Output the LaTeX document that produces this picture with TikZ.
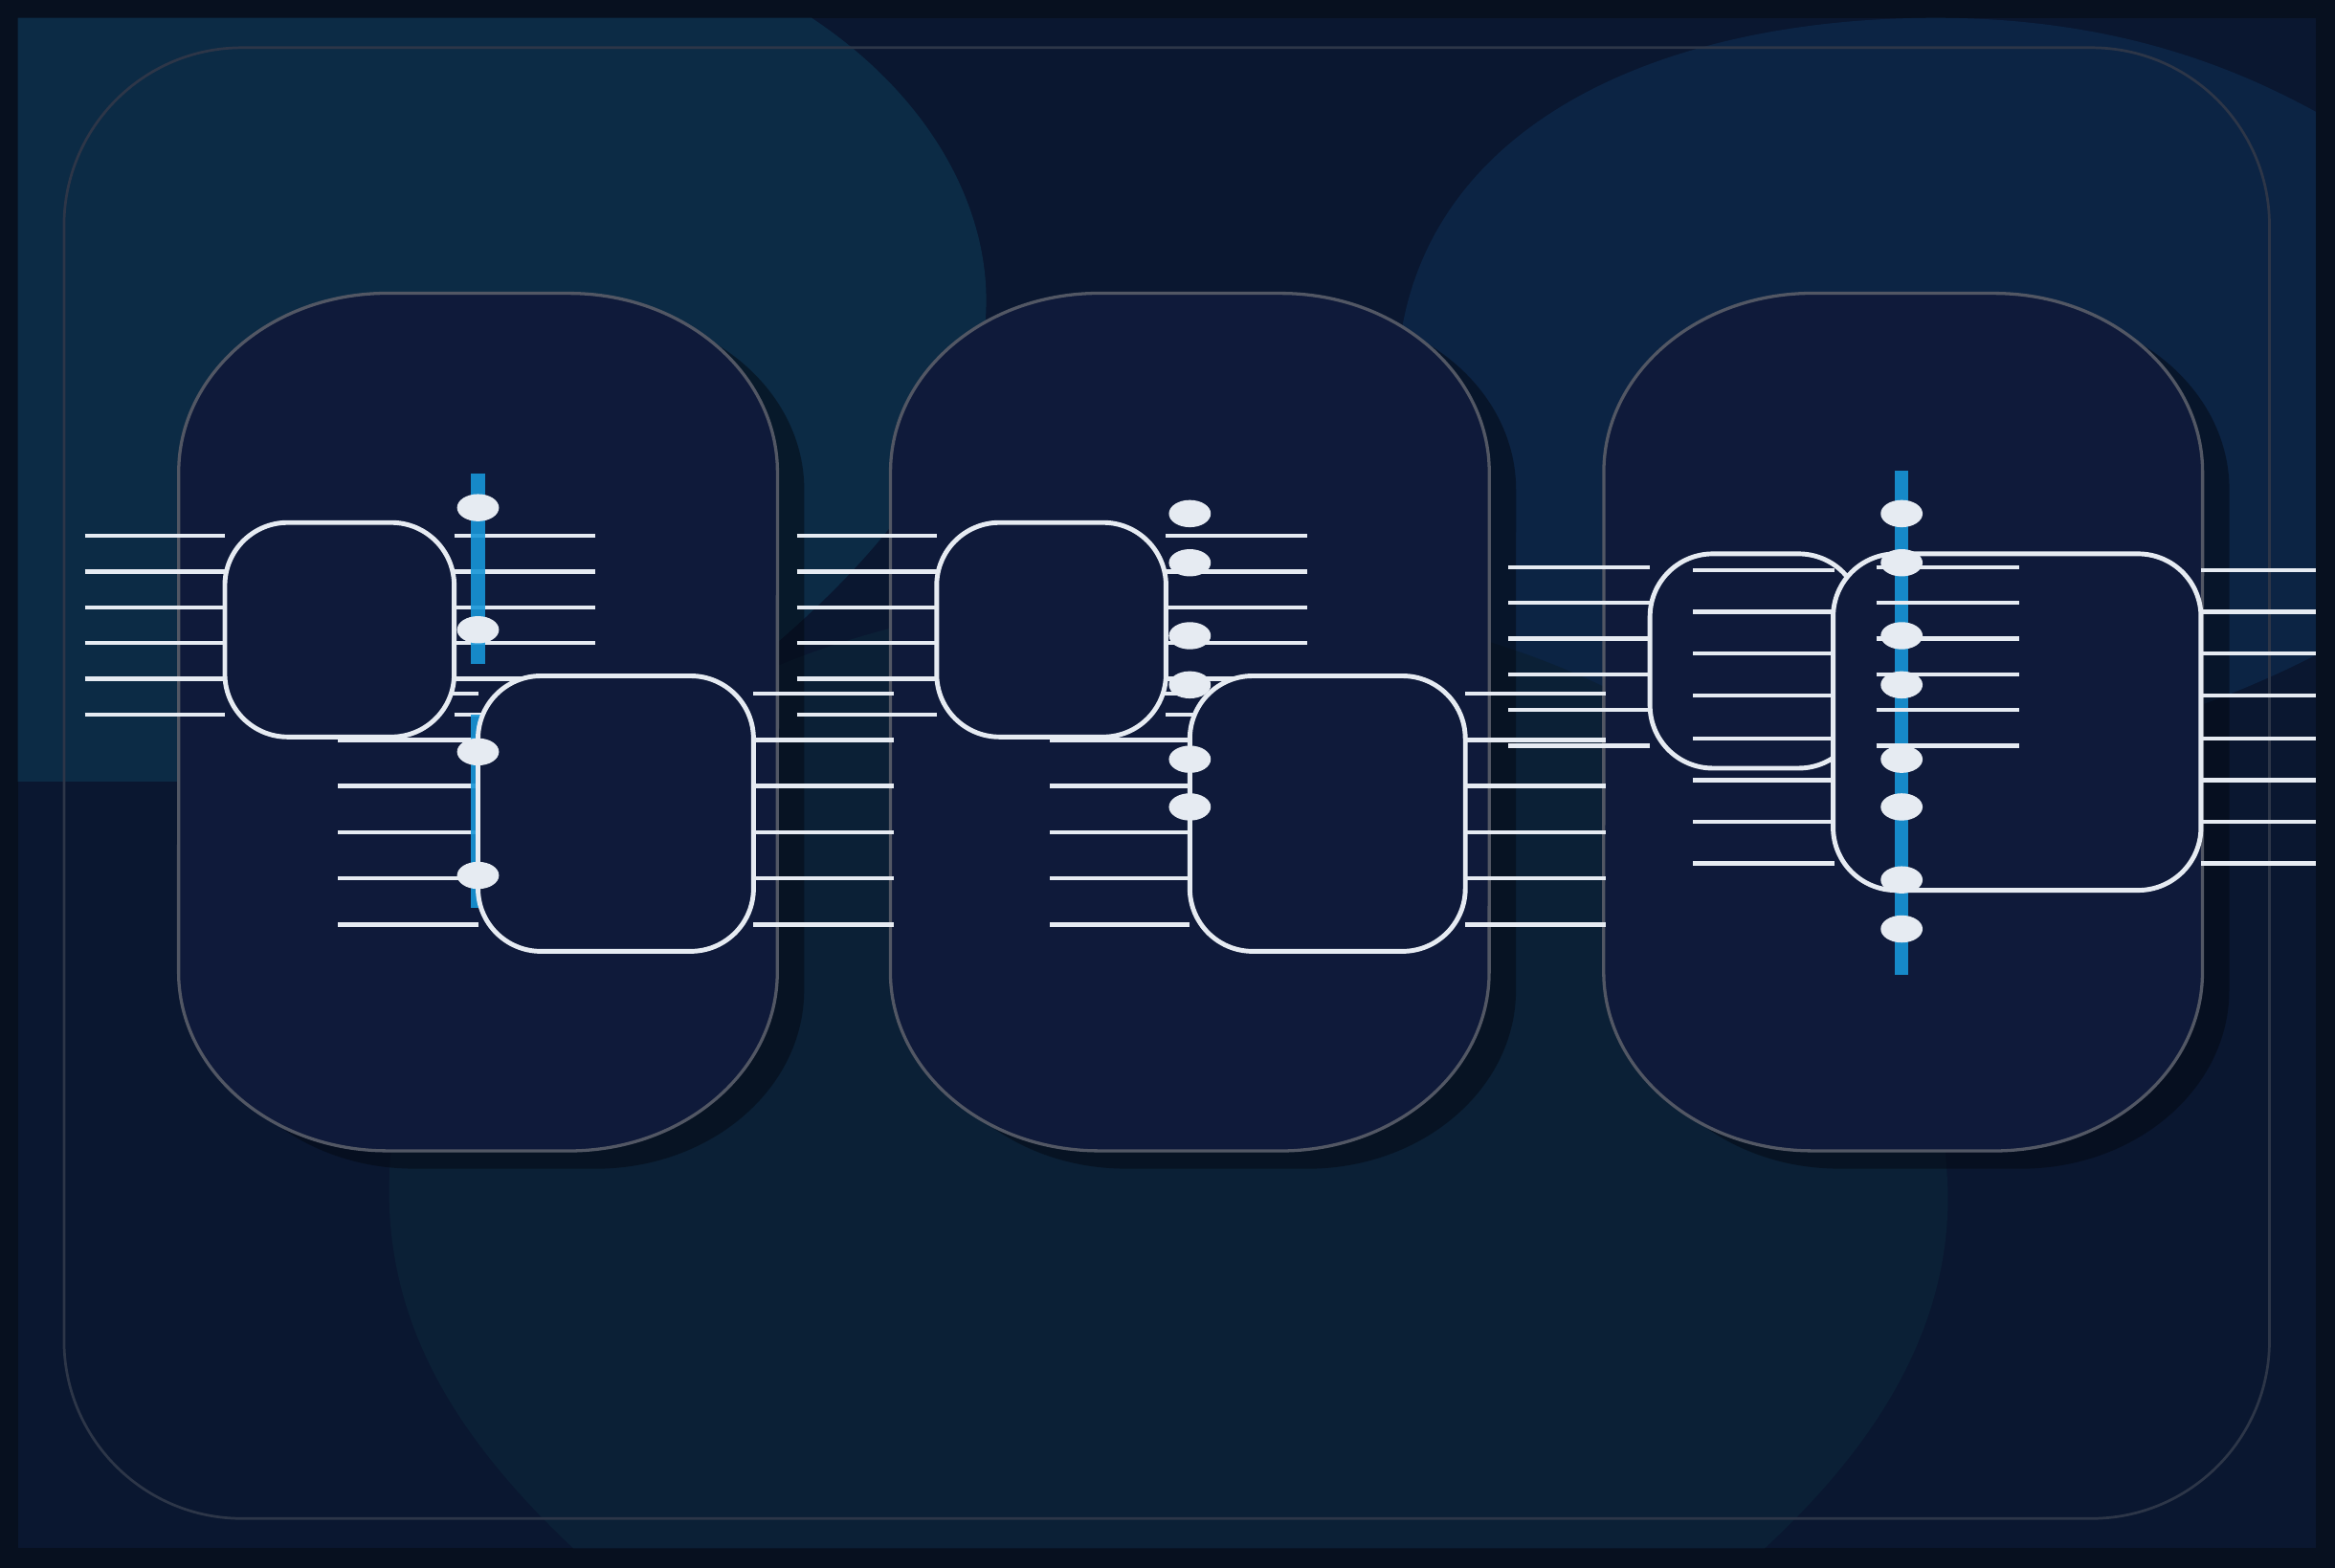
\documentclass[tikz,border=0pt]{standalone}
\usepackage{tikz}
\definecolor{bgdark}{HTML}{07101F}
\definecolor{bgmid}{HTML}{0A1730}
\definecolor{blobA}{HTML}{0C2B45}
\definecolor{blobB}{HTML}{0C2444}
\definecolor{blobC}{HTML}{0B2036}
\definecolor{panel}{HTML}{0F1A3A}
\definecolor{wire}{HTML}{E6EBF2}
\definecolor{bar}{HTML}{1796D8}
\tikzset{panelbox/.style={fill=panel,draw=gray!60!panel,line width=0.6pt},
         shadowbox/.style={fill=black!70!panel,opacity=0.5},
         gatebox/.style={rounded corners=12pt,draw=wire,line width=0.9pt,fill=panel},
         wireline/.style={draw=wire,line width=0.8pt},
         dotnode/.style={ellipse,fill=wire,minimum width=8pt,minimum height=5.2pt,inner sep=0},
         barline/.style={draw=bar,line width=2.6pt,opacity=0.9}}
\usetikzlibrary{shapes.geometric}
\newcommand{\panelpath}[2]{(120+#1,317+#2) arc[start angle=180,end angle=90,x radius=1.4cm,y radius=1.2cm]
  -- (382+#1,197+#2) arc[start angle=90,end angle=0,x radius=1.4cm,y radius=1.2cm] -- (522+#1,653+#2)
  arc[start angle=0,end angle=-90,x radius=1.4cm,y radius=1.2cm] -- (260+#1,773+#2)
  arc[start angle=-90,end angle=-180,x radius=1.4cm,y radius=1.2cm] -- cycle}
\begin{document}
\begin{tikzpicture}[x=0.01cm,y=-0.01cm]
\useasboundingbox (0,0) rectangle (1568,1053);
\fill[bgdark] (0,0) rectangle (1568,1053);
\fill[bgmid] (12,12) rectangle (1555,1040);
%% background blobs
\fill[blobA] (12,12) -- (545,12) .. controls (640,75) and (680,170) .. (655,250)
  .. controls (620,360) and (520,440) .. (400,525) -- (12,525) -- cycle;
\fill[blobB] (940,230) .. controls (960,80) and (1120,12) .. (1300,12)
  .. controls (1420,12) and (1500,45) .. (1555,75) -- (1555,440)
  .. controls (1400,520) and (1150,560) .. (1000,470) .. controls (950,420) and (935,320) .. (940,230) -- cycle;
\fill[blobC] (385,1040) .. controls (300,960) and (255,880) .. (262,780)
  .. controls (280,560) and (480,400) .. (780,400) .. controls (1090,400) and (1300,560) .. (1308,800)
  .. controls (1310,900) and (1250,980) .. (1185,1040) -- cycle;
\draw[gray!30!bgmid,line width=0.5pt,rounded corners=34pt] (43,32) rectangle (1524,1020);
%% panels
\foreach \dx in {0,478,957}{
  \fill[shadowbox] \panelpath{\dx+18}{12};
  \draw[panelbox] \panelpath{\dx}{0};
}
%% panel one and two
\foreach \dx in {0,478}{
  \foreach \y in {360,384,...,480}{
    \draw[wireline] (57+\dx,\y) -- (151+\dx,\y);
    \draw[wireline] (305+\dx,\y) -- (400+\dx,\y);
  }
  \foreach \y in {466,497,528,559,590,621}{
    \draw[wireline] (227+\dx,\y) -- (321+\dx,\y);
    \draw[wireline] (506+\dx,\y) -- (600+\dx,\y);
  }
}
\draw[barline] (321,318) -- (321,446);
\draw[barline] (321,480) -- (321,610);
\foreach \dx in {0,478}{
  \draw[gatebox] (151+\dx,351) rectangle (305+\dx,495);
  \draw[gatebox] (321+\dx,454) rectangle (506+\dx,639);
}
\foreach \y [count=\i] in {341,423,505,588}{\node[dotnode] (d1\i) at (321,\y) {};}
\foreach \y [count=\i] in {345,378,427,460,510,542}{\node[dotnode] (d2\i) at (799,\y) {};}
%% panel three
\foreach \y in {381,405,429,453,477,501}{
  \draw[wireline] (1013,\y) -- (1108,\y);
}
\foreach \y in {383,411,439,467,496,524,552,580}{
  \draw[wireline] (1478,\y) -- (1555,\y);
}
\draw[gatebox] (1108,372) rectangle (1250,516);
\foreach \y in {383,411,439,467,496,524,552,580}{
  \draw[wireline] (1137,\y) -- (1232,\y);
}
\draw[gatebox] (1231,372) rectangle (1478,598);
\draw[barline] (1277,316) -- (1277,655);
\foreach \y in {381,405,429,453,477,501}{
  \draw[wireline] (1260,\y) -- (1356,\y);
}
\foreach \y [count=\i] in {345,378,427,460,510,542,591,624}{\node[dotnode] (d3\i) at (1277,\y) {};}
\end{tikzpicture}
\end{document}
